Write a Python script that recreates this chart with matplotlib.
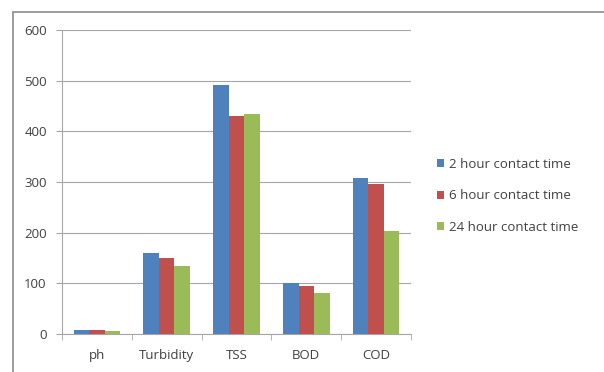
import matplotlib.pyplot as plt
import numpy as np
from matplotlib.patches import Rectangle

plt.rcParams['font.family'] = ['Open Sans', 'DejaVu Sans']

# Water quality parameters after treatment
parameters = ['ph', 'Turbidity', 'TSS', 'BOD', 'COD']
series_names = ['2 hour contact time', '6 hour contact time', '24 hour contact time']
hour_2 = [8, 160, 491, 101, 308]
hour_6 = [7, 150, 430, 95, 296]
hour_24 = [6, 134, 434, 80, 204]

colors = ['#4F81BD', '#C0504D', '#9BBB59']
text_col = '#404040'
fs = 9.5

fig = plt.figure(figsize=(6.04, 3.72), dpi=100)
fig.patch.set_facecolor('white')

# chart frame
fig.patches.append(Rectangle((13 / 604, -0.05), 1.0, 1 - 11.5 / 372 + 0.05,
                             transform=fig.transFigure, fill=False,
                             edgecolor='#8c8c8c', linewidth=1.2))

ax = fig.add_axes([62 / 604, 1 - 334 / 372, (411 - 62) / 604, (334 - 30) / 372])

x = np.arange(len(parameters))
width = 1 / 4.5
for i, (vals, name) in enumerate(zip([hour_2, hour_6, hour_24], series_names)):
    ax.bar(x + (i - 1) * width, vals, width, color=colors[i], label=name, zorder=3)

ax.set_xlim(-0.5, len(parameters) - 0.5)
ax.set_ylim(0, 600)
ax.set_yticks(range(0, 601, 100))
ax.yaxis.grid(True, color='#a6a6a6', linewidth=0.8, zorder=0)
ax.set_xticks(x)
ax.set_xticklabels(parameters)
ax.set_xticks(np.arange(-0.5, len(parameters)), minor=True)
ax.tick_params(axis='x', which='major', length=0, pad=11, labelsize=fs, colors=text_col)
ax.tick_params(axis='x', which='minor', length=4, color='#a6a6a6')
ax.tick_params(axis='y', length=4, color='#a6a6a6', labelsize=fs, colors=text_col, pad=7)

for side in ['top', 'right']:
    ax.spines[side].set_visible(False)
for side in ['left', 'bottom']:
    ax.spines[side].set_color('#a6a6a6')
    ax.spines[side].set_linewidth(0.8)

ax.legend(loc='center left', bbox_to_anchor=(1.04, 0.454), frameon=False,
          fontsize=fs, handlelength=0.55, handleheight=0.55, handletextpad=0.35,
          labelspacing=1.4, labelcolor=text_col)

fig.savefig('out.png', dpi=100)
